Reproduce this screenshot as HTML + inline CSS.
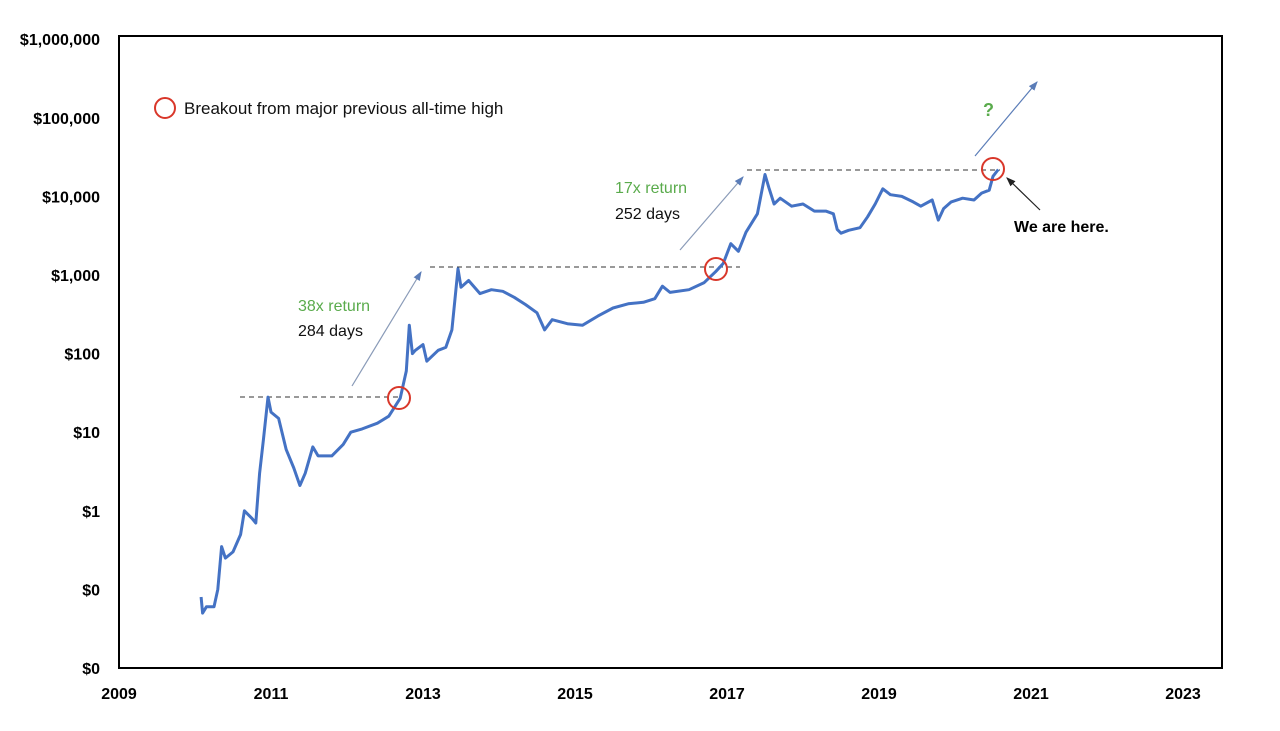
<!DOCTYPE html>
<html><head><meta charset="utf-8"><style>
body{margin:0;background:#fff;}
svg{display:block;font-family:"Liberation Sans",sans-serif;}
</style></head><body>
<svg id="chart" width="1280" height="731">
<rect x="119" y="36" width="1103" height="632" fill="none" stroke="#000" stroke-width="2"/>
<g id="yaxis"></g>
<g id="xaxis"></g>
<g id="annot">
<line x1="240" y1="397" x2="400" y2="397" stroke="#333" stroke-dasharray="5,4"/>
<line x1="430" y1="267" x2="740" y2="267" stroke="#333" stroke-dasharray="5,4"/>
<line x1="747" y1="170" x2="1000" y2="170" stroke="#333" stroke-dasharray="5,4"/>
<defs><marker id="ah" markerWidth="8" markerHeight="8" refX="7" refY="4" orient="auto"><path d="M0,1 L8,4 L0,7 z" fill="#5b7db8"/></marker>
<marker id="ahk" markerWidth="8" markerHeight="8" refX="7" refY="4" orient="auto"><path d="M0,1 L8,4 L0,7 z" fill="#222"/></marker></defs>
<line x1="352" y1="386" x2="421" y2="272" stroke="#8a9bb8" stroke-width="1.2" marker-end="url(#ah)"/>
<line x1="680" y1="250" x2="743" y2="177" stroke="#8a9bb8" stroke-width="1.2" marker-end="url(#ah)"/>
<line x1="975" y1="156" x2="1037" y2="82" stroke="#5b7db8" stroke-width="1.2" marker-end="url(#ah)"/>
<line x1="1040" y1="210" x2="1007" y2="178" stroke="#222" stroke-width="1.2" marker-end="url(#ahk)"/>
<text x="298" y="311" font-size="16" fill="#5aab4c">38x return</text>
<text x="298" y="336" font-size="16" fill="#111">284 days</text>
<text x="615" y="193" font-size="16" fill="#5aab4c">17x return</text>
<text x="615" y="219" font-size="16" fill="#111">252 days</text>
<text x="983" y="116" font-size="18" font-weight="bold" fill="#5aab4c">?</text>
<text x="1014" y="232" font-size="16" font-weight="bold" fill="#000">We are here.</text>
<circle cx="165" cy="108" r="10" fill="none" stroke="#d9372a" stroke-width="2"/>
<text x="184" y="114" font-size="17" fill="#111">Breakout from major previous all-time high</text>
</g>
<g id="series"></g>
</svg>
<script>
const yTickValues=[1e6,1e5,1e4,1e3,100,10,1,0.1,0.01];
const yTickLabels=["$1,000,000","$100,000","$10,000","$1,000","$100","$10","$1","$0","$0"];
const xTickValues=[2009,2011,2013,2015,2017,2019,2021,2023];
const years=[2010.08,2010.1,2010.15,2010.25,2010.3,2010.35,2010.4,2010.5,2010.6,2010.65,2010.75,2010.8,2010.85,2010.9,2010.96,2011.0,2011.1,2011.2,2011.3,2011.38,2011.45,2011.55,2011.62,2011.8,2011.95,2012.05,2012.2,2012.4,2012.55,2012.7,2012.78,2012.82,2012.86,2012.9,2013.0,2013.05,2013.2,2013.3,2013.38,2013.46,2013.5,2013.6,2013.75,2013.9,2014.05,2014.2,2014.35,2014.5,2014.6,2014.7,2014.9,2015.1,2015.3,2015.5,2015.7,2015.9,2016.05,2016.15,2016.25,2016.5,2016.7,2016.85,2016.95,2017.05,2017.15,2017.25,2017.4,2017.5,2017.55,2017.62,2017.7,2017.85,2018.0,2018.15,2018.3,2018.4,2018.45,2018.5,2018.6,2018.75,2018.85,2018.95,2019.05,2019.15,2019.3,2019.45,2019.55,2019.7,2019.78,2019.85,2019.95,2020.1,2020.25,2020.35,2020.45,2020.5,2020.57];
const prices=[0.08,0.05,0.06,0.06,0.1,0.35,0.25,0.3,0.5,1.0,0.8,0.7,3,8,28,18,15,6,3.5,2.1,3,6.5,5,5,7,10,11,13,16,27,60,230,100,110,130,80,110,120,200,1200,700,850,580,650,620,520,420,330,200,270,240,230,300,380,430,450,500,720,600,650,800,1100,1400,2500,2000,3500,6000,19000,13000,8000,9500,7500,8000,6500,6500,6000,3800,3400,3700,4000,5500,8000,12500,10500,10000,8500,7500,9000,5000,7000,8500,9500,9000,11000,12000,18000,22000];
const NS="http://www.w3.org/2000/svg";
function xs(y){return 119+(y-2009)*76;}
function ys(v){return 668-(Math.log10(v)+2)*78.6;}
const ya=document.getElementById('yaxis');
yTickValues.forEach((v,i)=>{const t=document.createElementNS(NS,'text');
t.setAttribute('x',100);t.setAttribute('y',ys(v)+6);t.setAttribute('text-anchor','end');
t.setAttribute('font-size','16');t.setAttribute('font-weight','bold');t.textContent=yTickLabels[i];


ya.appendChild(t);});
const xa=document.getElementById('xaxis');
xTickValues.forEach(v=>{const t=document.createElementNS(NS,'text');
t.setAttribute('x',xs(v));t.setAttribute('y',699);t.setAttribute('text-anchor','middle');
t.setAttribute('font-size','16');t.setAttribute('font-weight','bold');t.textContent=v;


xa.appendChild(t);});
const s=document.getElementById('series');
const p=document.createElementNS(NS,'polyline');
p.setAttribute('points',years.map((y,i)=>xs(y).toFixed(1)+','+ys(prices[i]).toFixed(1)).join(' '));
p.setAttribute('fill','none');p.setAttribute('stroke','#4472c4');p.setAttribute('stroke-width','3');p.setAttribute('stroke-linejoin','round');


s.appendChild(p);
[[399,398],[716,269],[993,169]].forEach(c=>{const e=document.createElementNS(NS,'circle');
e.setAttribute('cx',c[0]);e.setAttribute('cy',c[1]);e.setAttribute('r',11);e.setAttribute('fill','none');e.setAttribute('stroke','#d9372a');e.setAttribute('stroke-width','2');


s.appendChild(e);});
</script>
</body></html>
